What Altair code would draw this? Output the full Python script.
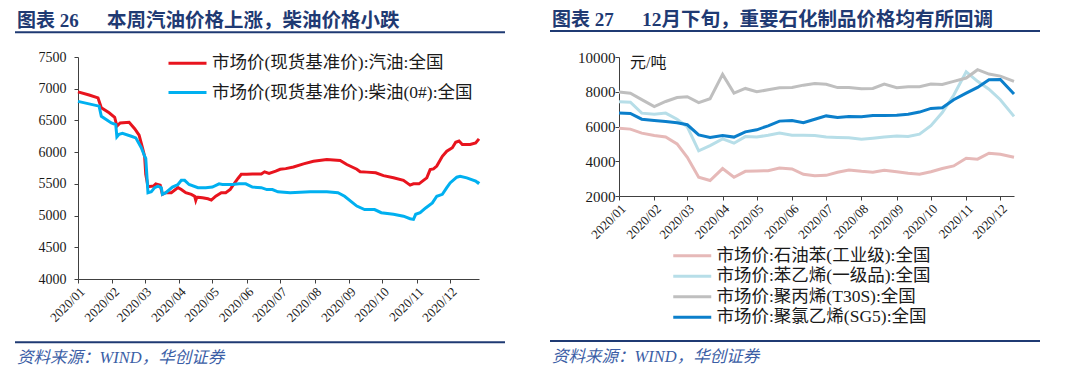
import altair as alt
import pandas as pd

FONT = "Liberation Serif, Noto Sans CJK SC"
NAVY = "#1F3A73"
FOOT = "#3B5EA6"

# ---------------- left panel data ----------------
GAS = "市场价(现货基准价):汽油:全国"
DIESEL = "市场价(现货基准价):柴油(0#):全国"

gas_dates = ["2020-01-01", "2020-01-11", "2020-01-19", "2020-01-22", "2020-01-29", "2020-02-03",
             "2020-02-05", "2020-02-08", "2020-02-16", "2020-02-21", "2020-02-25", "2020-02-28",
             "2020-03-01", "2020-03-02", "2020-03-04", "2020-03-09", "2020-03-11", "2020-03-15",
             "2020-03-17", "2020-03-20", "2020-03-25", "2020-03-31", "2020-04-03", "2020-04-07",
             "2020-04-12", "2020-04-15", "2020-04-16", "2020-04-17", "2020-04-22", "2020-04-27",
             "2020-04-30", "2020-05-04", "2020-05-09", "2020-05-13", "2020-05-17", "2020-05-19",
             "2020-05-24", "2020-05-27", "2020-06-01", "2020-06-06", "2020-06-14", "2020-06-17",
             "2020-06-21", "2020-06-27", "2020-07-01", "2020-07-06", "2020-07-13", "2020-07-22",
             "2020-07-31", "2020-08-12", "2020-08-24", "2020-08-30", "2020-09-08", "2020-09-11",
             "2020-09-17", "2020-09-25", "2020-10-02", "2020-10-11", "2020-10-20", "2020-10-26",
             "2020-10-29", "2020-11-03", "2020-11-07", "2020-11-10", "2020-11-13", "2020-11-16",
             "2020-11-19", "2020-11-24", "2020-11-28", "2020-12-03", "2020-12-06", "2020-12-09",
             "2020-12-12", "2020-12-19", "2020-12-24", "2020-12-27"]
gas_values = [6950, 6900, 6855, 6700, 6620, 6550,
              6410, 6460, 6470, 6370, 6270, 6070,
              5930, 5650, 5455, 5465, 5500, 5480,
              5335, 5360, 5360, 5440, 5410, 5360,
              5335, 5305, 5240, 5290, 5280, 5265,
              5245, 5305, 5360, 5360, 5410, 5465,
              5585, 5650, 5650, 5655, 5655, 5690,
              5665, 5700, 5730, 5740, 5765, 5815,
              5855, 5885, 5870, 5805, 5730, 5690,
              5685, 5675, 5630, 5595, 5555, 5480,
              5500, 5500, 5555, 5595, 5725, 5735,
              5780, 5935, 6015, 6070, 6155, 6175,
              6120, 6120, 6145, 6210]

diesel_dates = ["2020-01-01", "2020-01-20", "2020-01-22", "2020-01-31", "2020-02-04", "2020-02-05",
                "2020-02-07", "2020-02-10", "2020-02-18", "2020-02-22", "2020-02-27", "2020-03-01",
                "2020-03-02", "2020-03-04", "2020-03-07", "2020-03-10", "2020-03-13", "2020-03-16",
                "2020-03-17", "2020-03-20", "2020-03-26", "2020-03-31", "2020-04-03", "2020-04-06",
                "2020-04-10", "2020-04-18", "2020-04-25", "2020-05-01", "2020-05-07", "2020-05-10",
                "2020-05-19", "2020-05-25", "2020-05-31", "2020-06-06", "2020-06-14", "2020-06-19",
                "2020-06-24", "2020-06-29", "2020-07-10", "2020-07-28", "2020-08-12", "2020-08-22",
                "2020-08-28", "2020-09-08", "2020-09-15", "2020-09-24", "2020-09-30", "2020-10-11",
                "2020-10-20", "2020-10-26", "2020-10-29", "2020-10-31", "2020-11-04", "2020-11-09",
                "2020-11-15", "2020-11-19", "2020-11-24", "2020-11-28", "2020-12-01", "2020-12-07",
                "2020-12-10", "2020-12-16", "2020-12-24", "2020-12-26", "2020-12-27"]
diesel_values = [6800, 6725, 6565, 6460, 6435, 6240,
                 6280, 6295, 6250, 6225, 6070, 5935,
                 5900, 5360, 5375, 5440, 5465, 5440,
                 5335, 5360, 5450, 5490, 5555, 5555,
                 5490, 5440, 5440, 5450, 5500, 5490,
                 5490, 5500, 5500, 5450, 5440, 5410,
                 5410, 5375, 5360, 5375, 5375, 5360,
                 5305, 5150, 5095, 5095, 5045, 5020,
                 4990, 4950, 4940, 5020, 5045, 5120,
                 5200, 5305, 5335, 5440, 5515, 5605,
                 5620, 5595, 5545, 5515, 5540]

# ---------------- right panel data (dekadal) ----------------
BENZ = "市场价:石油苯(工业级):全国"
STY = "市场价:苯乙烯(一级品):全国"
PP = "市场价:聚丙烯(T30S):全国"
PVC = "市场价:聚氯乙烯(SG5):全国"

chem_dates = ["2020-01-01", "2020-01-11", "2020-01-21", "2020-02-01", "2020-02-11", "2020-02-21",
              "2020-03-01", "2020-03-11", "2020-03-21", "2020-04-01", "2020-04-11", "2020-04-21",
              "2020-05-01", "2020-05-11", "2020-05-21", "2020-06-01", "2020-06-11", "2020-06-21",
              "2020-07-01", "2020-07-11", "2020-07-21", "2020-08-01", "2020-08-11", "2020-08-21",
              "2020-09-01", "2020-09-11", "2020-09-21", "2020-10-01", "2020-10-11", "2020-10-21",
              "2020-11-01", "2020-11-11", "2020-11-21", "2020-12-01", "2020-12-13"]
benz_values = [5900, 5850, 5620, 5480, 5400, 5000, 4230, 3080, 2890, 3580, 3080, 3420,
               3440, 3460, 3610, 3560, 3250, 3170, 3190, 3370, 3500, 3420, 3370, 3480,
               3390, 3310, 3250, 3400, 3580, 3730, 4170, 4120, 4460, 4400, 4230]
sty_values = [7420, 7400, 6770, 6710, 6770, 6420, 5980, 4600, 4900, 5290, 5040, 5420,
              5390, 5500, 5630, 5500, 5490, 5480, 5390, 5370, 5350, 5270, 5330, 5390,
              5460, 5420, 5560, 6050, 6800, 7800, 9150, 8600, 8150, 7540, 6580]
pp_values = [7980, 7920, 7550, 7150, 7440, 7670, 7710, 7370, 7600, 9000, 7920, 8190,
             8000, 8110, 8230, 8250, 8380, 8480, 8430, 8240, 8250, 8170, 8190, 8440,
             8230, 8290, 8290, 8440, 8420, 8600, 8790, 9270, 9020, 8900, 8600]
pvc_values = [6770, 6750, 6420, 6350, 6290, 6210, 6100, 5520, 5370, 5480, 5390, 5690,
              5810, 6040, 6310, 6350, 6220, 6420, 6610, 6520, 6580, 6560, 6630, 6630,
              6650, 6710, 6830, 7040, 7080, 7540, 7920, 8250, 8690, 8710, 7870]

left_y_ticks = [4000, 4500, 5000, 5500, 6000, 6500, 7000, 7500]
right_y_ticks = [2000, 4000, 6000, 8000, 10000]

# ---------------- frames ----------------
left_df = pd.concat([
    pd.DataFrame({"date": gas_dates, "value": gas_values, "series": GAS}),
    pd.DataFrame({"date": diesel_dates, "value": diesel_values, "series": DIESEL}),
])
right_df = pd.concat([
    pd.DataFrame({"date": chem_dates, "value": benz_values, "series": BENZ}),
    pd.DataFrame({"date": chem_dates, "value": sty_values, "series": STY}),
    pd.DataFrame({"date": chem_dates, "value": pp_values, "series": PP}),
    pd.DataFrame({"date": chem_dates, "value": pvc_values, "series": PVC}),
])

month_ticks = [alt.DateTime(year=2020, month=m, date=1, utc=True) for m in range(1, 13)]


def x_axis():
    return alt.Axis(values=month_ticks, format="%Y/%m", labelAngle=-45, labelFont=FONT,
                    labelFontSize=13, labelColor="#1a1a1a", domainColor="#404040",
                    tickColor="#404040", tickSize=4, grid=False, title=None, labelPadding=2,
                    labelOverlap=False)


def y_axis(vals, size, pad):
    return alt.Axis(values=vals, format="d", labelFont=FONT, labelFontSize=size,
                    labelColor="#1a1a1a", domainColor="#404040", tickColor="#404040",
                    tickSize=4, grid=False, title=None, labelPadding=pad)


one = pd.DataFrame({"a": [0]})


def deco(rel_top, rel_left, rel_right, tag, title, title_x):
    t1 = alt.Chart(one).mark_text(align="left", baseline="middle", font=FONT, fontSize=19,
                                  fontWeight="bold", color=NAVY).encode(
        text=alt.value(tag), x=alt.value(rel_left + 2), y=alt.value(19.5 - rel_top))
    t2 = alt.Chart(one).mark_text(align="left", baseline="middle", font=FONT, fontSize=19.5,
                                  fontWeight="bold", color=NAVY).encode(
        text=alt.value(title), x=alt.value(title_x), y=alt.value(19.5 - rel_top))
    r1 = alt.Chart(one).mark_rule(color=NAVY, strokeWidth=2).encode(
        x=alt.value(rel_left), x2=alt.value(rel_right), y=alt.value(31 - rel_top))
    r2 = alt.Chart(one).mark_rule(color=NAVY, strokeWidth=2).encode(
        x=alt.value(rel_left), x2=alt.value(rel_right), y=alt.value(341 - rel_top))
    f = alt.Chart(one).mark_text(align="left", baseline="middle", font=FONT, fontSize=16.5,
                                 fontStyle="italic", color=FOOT).encode(
        text=alt.value("资料来源：WIND，华创证券"), x=alt.value(rel_left + 2), y=alt.value(357 - rel_top))
    return [t1, t2, r1, r2, f]


# ---------------- left chart ----------------
L_TOP, L_LEFT = 55.7, 78
left_lines = alt.Chart(left_df).mark_line(strokeWidth=3).encode(
    x=alt.X("date:T", scale=alt.Scale(type="utc", domain=[alt.DateTime(year=2020, month=1, date=1, utc=True),
                                                         alt.DateTime(year=2020, month=12, date=27, utc=True)]),
            axis=x_axis()),
    y=alt.Y("value:Q", scale=alt.Scale(domain=[4000, 7500], nice=False, zero=False),
            axis=y_axis(left_y_ticks, 14, 8)),
    color=alt.Color("series:N", scale=alt.Scale(domain=[GAS, DIESEL], range=["#E8141E", "#00B0F0"]),
                    legend=alt.Legend(orient="none", legendX=89, legendY=-14.3, direction="vertical",
                                      title=None, symbolType="stroke", symbolStrokeWidth=3,
                                      symbolSize=1444, labelFont=FONT, labelFontSize=17.5,
                                      labelColor="#1a1a1a", rowPadding=0.3, labelOffset=4,
                                      labelLimit=500, padding=0)),
)

left = alt.layer(left_lines, *deco(L_TOP, 15 - L_LEFT, 505 - L_LEFT, "图表 26",
                                    "本周汽油价格上涨，柴油价格小跌", 107 - L_LEFT)).properties(
    width=401, height=222)

# ---------------- right chart ----------------
R_TOP, R_LEFT = 57, 619
right_lines = alt.Chart(right_df).mark_line(strokeWidth=3).encode(
    x=alt.X("date:T", scale=alt.Scale(type="utc", domain=[alt.DateTime(year=2020, month=1, date=1, utc=True),
                                                         alt.DateTime(year=2020, month=12, date=13, utc=True)]),
            axis=x_axis()),
    y=alt.Y("value:Q", scale=alt.Scale(domain=[2000, 10000], nice=False, zero=False),
            axis=y_axis(right_y_ticks, 15, 0)),
    color=alt.Color("series:N", scale=alt.Scale(domain=[BENZ, STY, PP, PVC],
                                                range=["#E6B9B8", "#B7DEE8", "#BFBFBF", "#0B7FCB"]),
                    legend=alt.Legend(orient="none", legendX=64.5, legendY=190, direction="vertical",
                                      title=None, symbolType="M-3.8,0H3.8", symbolStrokeWidth=3,
                                      symbolSize=100, symbolFillColor="transparent",
                                      labelFont=FONT, labelFontSize=17.5,
                                      labelColor="#1a1a1a", rowPadding=1.5, labelOffset=15.5,
                                      labelLimit=500, padding=0)),
)

unit = alt.Chart(one).mark_text(align="left", baseline="middle", font=FONT, fontSize=16,
                                color="#1a1a1a").encode(text=alt.value("元/吨"), x=alt.value(11), y=alt.value(6))

right = alt.layer(right_lines, unit, *deco(R_TOP, 550 - R_LEFT, 1040 - R_LEFT, "图表 27",
                                           "12月下旬，重要石化制品价格均有所回调", 642 - R_LEFT)).properties(
    width=395, height=139)

chart = alt.hconcat(left, right, spacing=43).resolve_scale(color="independent").properties(
    padding={"left": 6, "top": 1, "right": 0, "bottom": 0}
).configure_view(stroke=None)

chart.save("out.html", embed_options={"renderer": "svg", "actions": False})
